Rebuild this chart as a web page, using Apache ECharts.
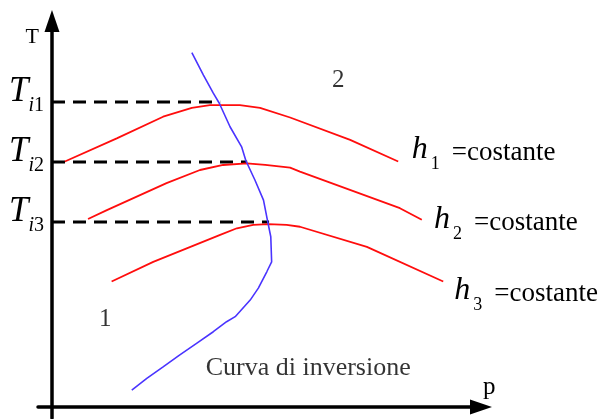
<!DOCTYPE html>
<html>
<head>
<meta charset="utf-8">
<script src="https://cdn.jsdelivr.net/npm/echarts@6/dist/echarts.min.js"></script>
<style>
html, body { margin: 0; padding: 0; background: #fff; }
#chart { width: 598px; height: 419px; }
</style>
</head>
<body>
<div id="chart"></div>
<script>
// Isenthalpic curves (h = const) in the p–T plane, with the inversion curve.
// Values are [p, T] in arbitrary units (axes run 0..100).
const h1 = [[3.0, 63.6], [15.1, 69.6], [25.9, 75.2], [32.6, 77.5], [36.8, 78.2], [43.8, 78.2],
            [48.5, 77.5], [55.5, 75.0], [69.5, 69.2], [80.7, 63.6]];
const h2 = [[8.4, 48.7], [12.8, 51.0], [26.7, 58.0], [34.5, 61.4], [39.9, 62.7], [45.4, 63.1],
            [49.7, 62.7], [55.5, 62.0], [57.8, 61.0], [81.1, 51.5], [86.2, 48.5]];
const h3 = [[13.9, 32.5], [23.6, 37.6], [31.4, 41.1], [39.2, 44.6], [43.1, 46.3], [46.9, 47.2],
            [50.4, 47.4], [54.7, 47.2], [57.8, 46.7], [73.4, 41.5], [91.2, 32.5]];
const inversion = [[32.6, 91.8], [35.3, 86.0], [37.6, 81.3], [39.0, 78.7], [41.5, 72.6], [44.2, 67.4],
                   [45.2, 63.8], [47.3, 58.8], [49.3, 53.6], [50.2, 48.5], [51.0, 44.1], [51.2, 37.6],
                   [50.1, 35.1], [48.1, 30.8], [46.2, 27.7], [42.7, 23.4], [40.7, 22.1], [37.6, 19.5],
                   [33.7, 16.5], [29.8, 13.5], [25.9, 10.4], [22.1, 7.4], [18.6, 4.4]];

// Inversion temperatures: level on the T axis and the pressure where each meets its curve
const tiLevels = [79.0, 63.5, 47.9];
const tiEnds = [39.2, 45.5, 50.6];
const tiIndex = ['1', '2', '3'];

// Curve names and region labels
const hIndex = ['1', '2', '3'];
const hText = '=costante';
const regionNames = [[12.4, 22.8, '1'], [66.7, 84.5, '2']];
const inversionName = [35.7, 10.1, 'Curva di inversione'];

const serif = 'Liberation Serif';
const RED = '#ff0d0d';
const BLUE = '#4a34ff';

const chart = echarts.init(document.getElementById('chart'), null, { renderer: 'canvas' });

// h_n =costante : italic h, subscript index, then the text
const hRich = {
  h: { fontFamily: serif, fontStyle: 'italic', fontSize: 32, height: 24, lineHeight: 40, verticalAlign: 'top', color: '#000' },
  s: { fontFamily: serif, fontSize: 18, height: 16, lineHeight: 34, padding: [18, 0, 0, 3], verticalAlign: 'top', color: '#000' },
  c: { fontFamily: serif, fontSize: 27, height: 24, lineHeight: 27, padding: [3, 0, 0, 12], verticalAlign: 'top', color: '#000' }
};
const hOffsets = [[13.5, -3.5], [12.3, 8.2], [11, 17.5]];

const hSeries = [h1, h2, h3].map((d, i) => ({
  type: 'line',
  data: d,
  symbol: 'none',
  lineStyle: { color: RED, width: 1.8 },
  endLabel: {
    show: true,
    distance: 0,
    offset: hOffsets[i],
    formatter: `{h|h}{s|${hIndex[i]}}{c|${hText}}`,
    rich: hRich
  },
  z: 3
}));

const dashSeries = tiLevels.map((t, i) => ({
  type: 'line',
  data: [[0, t], [tiEnds[i], t]],
  symbol: 'none',
  lineStyle: { color: '#000', width: 3, type: [13, 8] },
  z: 2
}));

const option = {
  animation: false,
  backgroundColor: '#fff',
  grid: { left: 38, right: 117, top: 21, bottom: 1, containLabel: false, outerBoundsMode: 'none' },
  xAxis: {
    type: 'value',
    min: -3.26,
    max: 100,
    axisLine: {
      onZero: true,
      lineStyle: { color: '#000', width: 3.5 },
      symbol: ['none', 'triangle'],
      symbolSize: [15, 22]
    },
    axisTick: { show: false },
    axisLabel: { show: false },
    splitLine: { show: false },
    name: 'p',
    nameLocation: 'end',
    nameGap: 2,
    nameTextStyle: {
      fontFamily: serif, fontSize: 25, color: '#000',
      align: 'left', verticalAlign: 'bottom', lineHeight: 40
    }
  },
  yAxis: {
    type: 'value',
    min: -2.85,
    max: 100,
    axisLine: {
      onZero: true,
      lineStyle: { color: '#000', width: 3.5 },
      symbol: ['none', 'triangle'],
      symbolSize: [15, 22]
    },
    axisTick: { show: false },
    splitLine: { show: false },
    axisLabel: {
      customValues: tiLevels,
      margin: -6,
      hideOverlap: false,
      formatter: v => {
        const i = tiLevels.indexOf(v);
        return i < 0 ? '' : `{T|T}{si|i}{sn|${tiIndex[i]}}`;
      },
      rich: {
        T: { fontFamily: serif, fontStyle: 'italic', fontSize: 35, height: 24, lineHeight: 44, verticalAlign: 'top', color: '#000' },
        si: { fontFamily: serif, fontStyle: 'italic', fontSize: 20, height: 18, lineHeight: 35, padding: [17, 0, 0, 0], verticalAlign: 'top', color: '#000' },
        sn: { fontFamily: serif, fontSize: 20, height: 18, lineHeight: 35, padding: [17, 0, 0, 0], verticalAlign: 'top', color: '#000' }
      }
    },
    name: 'T',
    nameLocation: 'end',
    nameGap: -16,
    nameTextStyle: {
      fontFamily: serif, fontSize: 22, color: '#000',
      align: 'right', verticalAlign: 'middle', padding: [0, 13, 0, 0]
    }
  },
  series: [
    ...dashSeries,
    ...hSeries,
    {
      type: 'line',
      data: inversion,
      symbol: 'none',
      lineStyle: { color: BLUE, width: 1.6 },
      z: 4
    },
    {
      type: 'scatter',
      symbolSize: 1,
      itemStyle: { color: 'rgba(0,0,0,0)' },
      silent: true,
      data: [
        ...regionNames.map(d => ({
          value: [d[0], d[1]],
          label: { show: true, position: 'inside', formatter: d[2], fontFamily: serif, fontSize: 25, color: '#000' }
        })),
        {
          value: [inversionName[0], inversionName[1]],
          label: { show: true, position: 'right', distance: 0, formatter: inversionName[2], fontFamily: serif, fontSize: 26, color: '#000' }
        }
      ]
    }
  ]
};

chart.setOption(option);
</script>
</body>
</html>
